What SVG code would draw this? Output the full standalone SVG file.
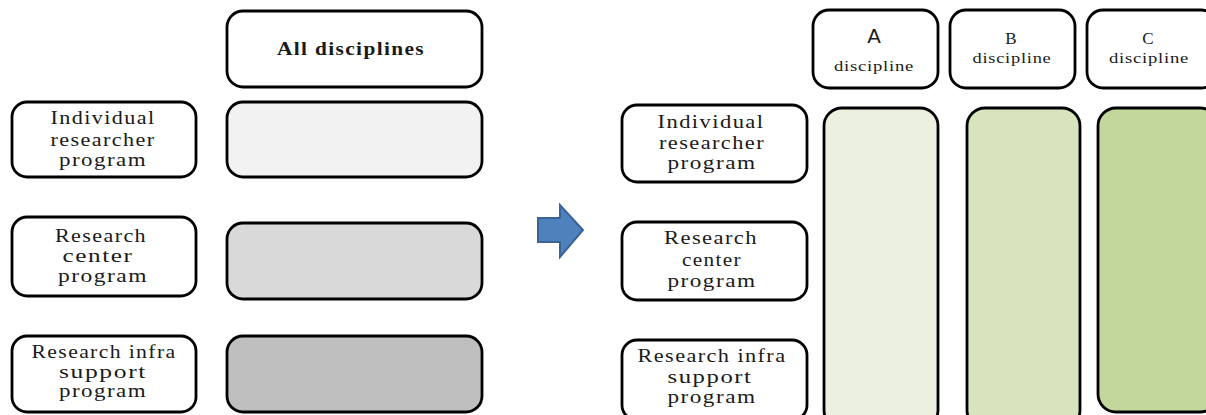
<svg xmlns="http://www.w3.org/2000/svg" width="1206" height="415" viewBox="0 0 1206 415">
<style>
.box{stroke:#000;stroke-width:2.8;fill:#fff}
.t{font-family:"Liberation Serif","Times New Roman",serif;font-size:19px;fill:#1a1a1a;text-anchor:middle;letter-spacing:1.2px}
.hd{font-family:"Liberation Serif","Times New Roman",serif;font-size:15px;fill:#1a1a1a;text-anchor:middle;letter-spacing:0.6px}
.ltr{font-family:"Liberation Serif","Times New Roman",serif;font-size:17px;fill:#1a1a1a;text-anchor:middle}
.sa{font-family:"DejaVu Sans","Liberation Sans",sans-serif;font-size:20px;fill:#1a1a1a;text-anchor:middle}
</style>
<rect width="1206" height="415" fill="#fff"/>

<g id="all-disciplines">
<rect class="box" x="227" y="11" width="255" height="76" rx="16"/>
<text class="t" x="351" y="55" font-weight="bold" textLength="148" lengthAdjust="spacingAndGlyphs">All disciplines</text>
</g>

<g id="left-individual">
<rect class="box" x="12" y="102" width="184" height="75" rx="15"/>
<text class="t" x="103" y="124" textLength="105" lengthAdjust="spacingAndGlyphs">Individual</text>
<text class="t" x="103" y="146" textLength="105" lengthAdjust="spacingAndGlyphs">researcher</text>
<text class="t" x="103" y="166" textLength="88" lengthAdjust="spacingAndGlyphs">program</text>
</g>
<g id="left-all-1"><rect class="box" x="227" y="102" width="255" height="75" rx="16" style="fill:#f2f2f2"/></g>

<g id="left-center">
<rect class="box" x="12" y="217" width="184" height="79" rx="15"/>
<text class="t" x="101" y="242" textLength="92" lengthAdjust="spacingAndGlyphs">Research</text>
<text class="t" x="98" y="262" textLength="71" lengthAdjust="spacingAndGlyphs">center</text>
<text class="t" x="103" y="282" textLength="90" lengthAdjust="spacingAndGlyphs">program</text>
</g>
<g id="left-all-2"><rect class="box" x="227" y="223" width="255" height="76" rx="16" style="fill:#d9d9d9"/></g>

<g id="left-infra">
<rect class="box" x="12" y="336" width="184" height="76" rx="15"/>
<text class="t" x="104" y="358" textLength="145" lengthAdjust="spacingAndGlyphs">Research infra</text>
<text class="t" x="103" y="378" textLength="88" lengthAdjust="spacingAndGlyphs">support</text>
<text class="t" x="103" y="397" textLength="88" lengthAdjust="spacingAndGlyphs">program</text>
</g>
<g id="left-all-3"><rect class="box" x="227" y="336" width="255" height="76" rx="16" style="fill:#bfbfbf"/></g>

<g id="connectors">
<polygon points="538,218 560,218 560,205 583,230 560,257 560,242 538,242" fill="#4f81bd" stroke="#3a6497" stroke-width="2"/>
</g>

<g id="header-a">
<rect class="box" x="813" y="10" width="125" height="78" rx="16"/>
<text class="sa" x="874" y="43">A</text>
<text class="hd" x="874" y="71" textLength="80" lengthAdjust="spacingAndGlyphs">discipline</text>
</g>
<g id="header-b">
<rect class="box" x="950" y="10" width="125" height="78" rx="16"/>
<text class="ltr" x="1011" y="44">B</text>
<text class="hd" x="1012" y="63" textLength="79" lengthAdjust="spacingAndGlyphs">discipline</text>
</g>
<g id="header-c">
<rect class="box" x="1087" y="10" width="130" height="78" rx="16"/>
<text class="ltr" x="1148" y="44">C</text>
<text class="hd" x="1149" y="63" textLength="80" lengthAdjust="spacingAndGlyphs">discipline</text>
</g>

<g id="right-individual">
<rect class="box" x="622" y="105" width="185" height="77" rx="15"/>
<text class="t" x="711" y="128" textLength="107" lengthAdjust="spacingAndGlyphs">Individual</text>
<text class="t" x="712" y="149" textLength="106" lengthAdjust="spacingAndGlyphs">researcher</text>
<text class="t" x="712" y="169" textLength="89" lengthAdjust="spacingAndGlyphs">program</text>
</g>
<g id="right-center">
<rect class="box" x="622" y="222" width="185" height="78" rx="15"/>
<text class="t" x="711" y="244" textLength="94" lengthAdjust="spacingAndGlyphs">Research</text>
<text class="t" x="712" y="266" textLength="60" lengthAdjust="spacingAndGlyphs">center</text>
<text class="t" x="712" y="287" textLength="89" lengthAdjust="spacingAndGlyphs">program</text>
</g>
<g id="right-infra">
<rect class="box" x="622" y="340" width="185" height="80" rx="15"/>
<text class="t" x="712" y="362" textLength="149" lengthAdjust="spacingAndGlyphs">Research infra</text>
<text class="t" x="710" y="383" textLength="85" lengthAdjust="spacingAndGlyphs">support</text>
<text class="t" x="712" y="403" textLength="89" lengthAdjust="spacingAndGlyphs">program</text>
</g>

<g id="column-a"><rect class="box" x="824" y="108" width="114" height="320" rx="18" style="fill:#ebf1de"/></g>
<g id="column-b"><rect class="box" x="967" y="108" width="113" height="320" rx="18" style="fill:#d7e4bd"/></g>
<g id="column-c"><rect class="box" x="1098" y="108" width="120" height="304" rx="18" style="fill:#c3d69b"/></g>
</svg>
